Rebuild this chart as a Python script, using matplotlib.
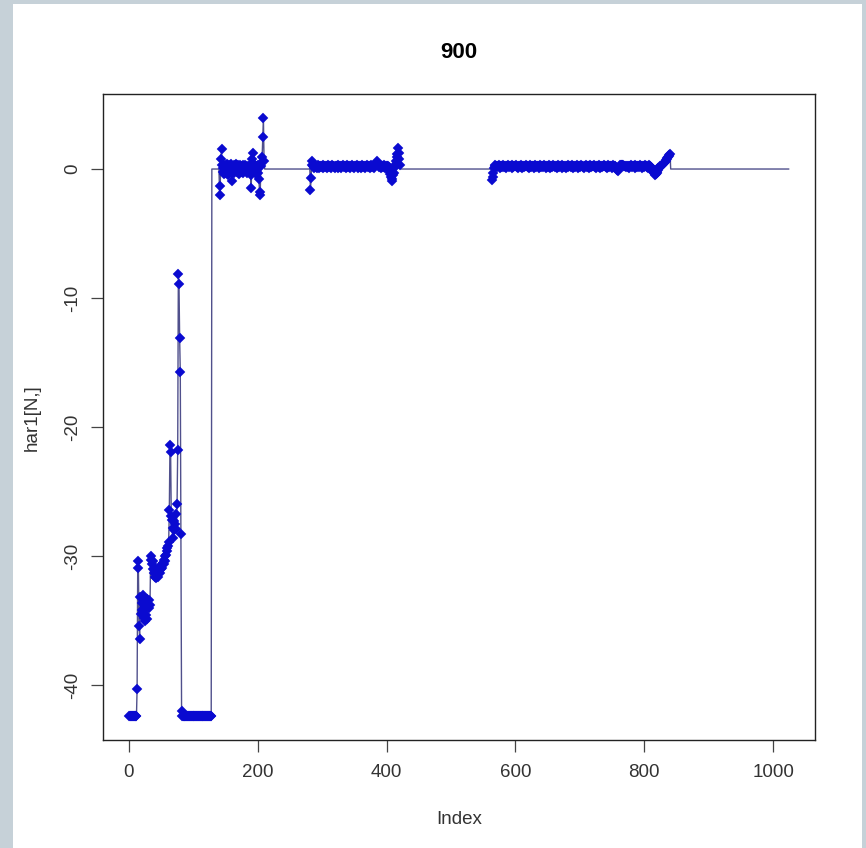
import matplotlib.pyplot as plt
from matplotlib.patches import Rectangle
import numpy as np

plt.rcParams['font.family'] = ['Liberation Sans', 'DejaVu Sans']
plt.rcParams['axes.unicode_minus'] = False

# har1[N,], index runs 1..1024, everything not listed is 0
n_total = 1024

# idx 1..82
start_vals = [-42.4, -42.4, -42.4, -42.4, -42.4, -42.4, -42.4, -42.4, -42.4, -42.4, -42.4, -42.4,
              -40.3, -30.4, -30.9, -35.4, -36.4,
              -33.2, -34.5, -33.6, -34.2, -33.0, -34.8, -33.5, -35.0, -33.9, -34.6, -33.3, -34.9,
              -33.7, -34.0, -33.4, -33.8,
              -30.0, -30.3, -30.6, -31.0, -30.4, -31.3, -31.6, -31.0, -31.7, -31.4, -31.1, -31.6,
              -31.2, -30.9, -31.3, -30.8, -31.0, -30.7, -30.9, -30.5, -30.6, -30.3, -30.4, -30.0,
              -29.9, -29.6, -29.4, -29.2, -28.9,
              -26.4, -21.4, -21.9, -26.9, -27.2, -28.6, -27.8, -27.3, -28.0, -27.5, -26.7, -27.9,
              -26.0, -21.8, -8.1, -8.9, -13.1, -15.7, -28.3, -42.0]

# idx 83..128 flat floor
floor_start = 83
floor_end = 128
floor_val = -42.4

# idx 141..210
seg_a_start = 141
seg_a = [-2.0, -1.3, 0.8, 1.55, 0.3, -0.2, 0.1, -0.4, 0.3, 0.2,
         -0.3, 0.4, 0.1, -0.5, 0.3, 0.2, -0.1, 0.4, 0.3, -0.2,
         -0.96, 0.1, 0.3, -0.3, 0.2, 0.4, 0.1, -0.2, 0.3, 0.2,
         -0.4, 0.1, 0.3, 0.2, -0.2, 0.1, 0.3, -0.3, 0.2, 0.1,
         0.3, -0.1, 0.2, -0.3, 0.1, 0.2, -0.2, 0.3, -0.5, -1.48,
         0.2, 0.8, 1.24, 0.4, 0.1, -0.2, 0.2, -0.4, 0.1, 0.3,
         -0.3, -0.8, -1.8, -2.0, 0.2, 0.5, 0.9, 2.46, 3.96, 0.6]

# idx 282..421
seg_b_start = 282
seg_b = [-1.6, -0.7, 0.6, 0.3,
         0.2, 0.1, 0.3, 0.2, 0.15, 0.25, 0.1, 0.2, 0.3, 0.2, 0.1, 0.2, 0.25, 0.15, 0.2, 0.3, 0.1, 0.2, 0.2, 0.15,
         0.25, 0.2, 0.1, 0.3, 0.2, 0.15, 0.2, 0.25, 0.1, 0.2, 0.3, 0.2, 0.15, 0.2, 0.1, 0.25, 0.2, 0.2, 0.3, 0.1,
         0.2, 0.15, 0.25, 0.2, 0.1, 0.2, 0.3, 0.2, 0.15, 0.25, 0.2, 0.1, 0.2, 0.3, 0.2, 0.15, 0.2, 0.25, 0.1, 0.2,
         0.3, 0.2, 0.15, 0.2, 0.1, 0.25, 0.2, 0.2, 0.3, 0.1, 0.2, 0.15, 0.25, 0.2, 0.1, 0.2, 0.3, 0.2, 0.15, 0.25,
         0.2, 0.1, 0.2, 0.3, 0.2, 0.15, 0.2, 0.25, 0.1, 0.2, 0.3, 0.2, 0.15, 0.2, 0.1,
         0.2, 0.3, 0.4, 0.5, 0.6, 0.45, 0.3, 0.2, 0.15,
         0.2, 0.1, 0.25, 0.2, 0.15, 0.2, 0.3, 0.1, 0.2, 0.15, 0.25, 0.2, 0.1, 0.2, 0.15,
         -0.2, -0.4, -0.6, -0.96, -0.8, -0.5, -0.3, 0.05, 0.2, 0.4, 0.6, 0.9, 1.2, 1.63, 1.24, 0.8, 0.3]

# idx 564..840
seg_c_start = 564
seg_c = [-0.83, -0.6, -0.3, 0.05, 0.2, 0.33,
         0.2, 0.25, 0.15, 0.2, 0.3, 0.2, 0.1, 0.25, 0.2, 0.15, 0.2, 0.3, 0.2, 0.15, 0.25, 0.2, 0.1, 0.2, 0.3, 0.2,
         0.15, 0.2, 0.25, 0.2, 0.1, 0.3, 0.2, 0.15, 0.2, 0.25, 0.2, 0.3, 0.15, 0.2, 0.1, 0.2, 0.25, 0.2, 0.15, 0.3,
         0.2, 0.1, 0.2, 0.25, 0.15, 0.2, 0.3, 0.2, 0.2, 0.15, 0.25, 0.1, 0.2, 0.3, 0.2, 0.15, 0.2, 0.25, 0.2, 0.1,
         0.3, 0.2, 0.15, 0.2, 0.25, 0.2, 0.1, 0.2, 0.3, 0.15, 0.2, 0.25, 0.2, 0.15, 0.2, 0.3, 0.2, 0.1, 0.25, 0.2,
         0.15, 0.2, 0.3, 0.2, 0.1, 0.25, 0.2, 0.15, 0.2, 0.3, 0.2, 0.2, 0.15, 0.25, 0.1, 0.2, 0.3, 0.2, 0.15, 0.2,
         0.25, 0.2, 0.1, 0.3, 0.2, 0.15, 0.2, 0.25, 0.2, 0.1, 0.2, 0.3, 0.15, 0.2, 0.25, 0.2, 0.15, 0.2, 0.3, 0.2,
         0.1, 0.25, 0.2, 0.15, 0.2, 0.3, 0.2, 0.1, 0.2, 0.25, 0.15, 0.2, 0.3, 0.2, 0.2, 0.15, 0.25, 0.1, 0.2, 0.3,
         0.2, 0.15, 0.2, 0.25, 0.2, 0.1, 0.3, 0.2, 0.15, 0.2, 0.25, 0.2, 0.3, 0.15, 0.2, 0.1, 0.2, 0.25, 0.2, 0.15,
         0.3, 0.2, 0.1, 0.2, 0.25, 0.15, 0.2, 0.3, 0.2, 0.2, 0.15, 0.25, 0.1, 0.2, 0.3, 0.2, 0.15, 0.2, 0.25, 0.2,
         0.1, 0.3, 0.2, 0.15, 0.2, 0.25,
         0.1, 0.05, -0.1, -0.18, -0.1, 0.1, 0.2, 0.3, 0.33,
         0.3, 0.33, 0.3, 0.25, 0.2, 0.2, 0.15, 0.2,
         0.2, 0.15, 0.25, 0.2, 0.1, 0.2, 0.3, 0.2, 0.15, 0.2, 0.25, 0.2, 0.1, 0.3, 0.2, 0.15, 0.2, 0.25, 0.2,
         0.15, 0.2, 0.3, 0.2, 0.1, 0.25, 0.2, 0.15, 0.2, 0.3, 0.2, 0.2, 0.15, 0.25, 0.1, 0.2, 0.3, 0.2, 0.15,
         0.1, 0.05, -0.1, -0.2, -0.3, -0.4, -0.45, -0.4,
         -0.3, -0.2, -0.1, 0.05, 0.1, 0.15, 0.2, 0.25, 0.3, 0.35, 0.4, 0.45, 0.5, 0.55, 0.6, 0.7, 0.8, 0.85,
         0.9, 1.0, 1.1, 1.19]

x_ticks = [0, 200, 400, 600, 800, 1000]
y_ticks = [-40, -30, -20, -10, 0]

# assemble the series
y = np.zeros(n_total)
y[0:len(start_vals)] = start_vals
y[floor_start - 1:floor_end] = floor_val
y[seg_a_start - 1:seg_a_start - 1 + len(seg_a)] = seg_a
y[seg_b_start - 1:seg_b_start - 1 + len(seg_b)] = seg_b
y[seg_c_start - 1:seg_c_start - 1 + len(seg_c)] = seg_c
idx = np.arange(1, n_total + 1)
has_pt = y != 0

W, H = 866, 848
fig = plt.figure(figsize=(W / 100, H / 100), dpi=100)
fig.patch.set_facecolor('#c6d1d8')
fig.patches.append(Rectangle((13 / W, 0), (862 - 13) / W, 1 - 4 / H,
                             transform=fig.transFigure, facecolor='white',
                             edgecolor='none', zorder=-10))

ax = fig.add_axes([103 / W, 1 - 740 / H, (815 - 103) / W, (740 - 94) / H])
ax.set_zorder(1)
ax.set_facecolor('white')

ax.plot(idx, y, color='#50508c', linewidth=1.0, zorder=2)
ax.plot(idx[has_pt], y[has_pt], linestyle='none', marker='D', markersize=5.0,
        color='#0a0ad0', markeredgewidth=0.3, markeredgecolor='#0a0ad0', zorder=3)

# R-style 4% padding
xr = idx.max() - idx.min()
ax.set_xlim(idx.min() - 0.04 * xr, idx.max() + 0.04 * xr)
yr = y.max() - y.min()
ax.set_ylim(y.min() - 0.04 * yr, y.max() + 0.04 * yr)

ax.set_xticks(x_ticks)
ax.set_yticks(y_ticks)
ax.tick_params(direction='out', length=8.6, width=0.9, color='#444444',
               labelsize=13.5, labelcolor='#333333')
ax.tick_params(axis='x', pad=9)
ax.tick_params(axis='y', pad=7, labelrotation=90)
for lab in ax.get_yticklabels():
    lab.set_va('center')
for s in ax.spines.values():
    s.set_linewidth(1.0)
    s.set_color('#222222')

fig.text(459 / W, 1 - 52 / H, '900', ha='center', va='center',
         fontsize=16, fontweight='bold')
fig.text(459 / W, 1 - 820 / H, 'Index', ha='center', va='center', fontsize=13.5,
         color='#333333')
fig.text(32 / W, 1 - 418 / H, 'har1[N,]', ha='center', va='center', rotation=90,
         fontsize=13.5, color='#333333')

fig.savefig('out.png', dpi=100, facecolor=fig.get_facecolor())
